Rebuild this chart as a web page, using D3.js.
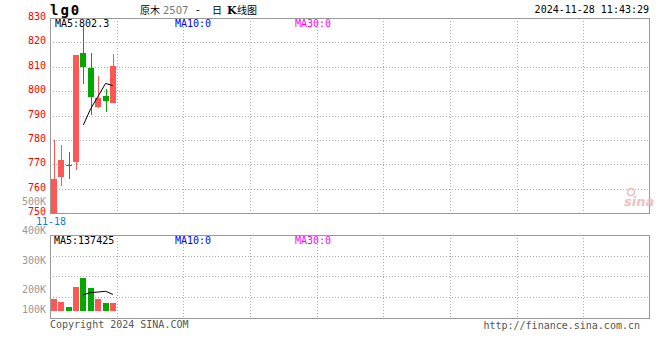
<!DOCTYPE html>
<html>
<head>
<meta charset="utf-8">
<script src="https://cdn.jsdelivr.net/npm/d3@7/dist/d3.min.js"></script>
<style>
  body { margin: 0; background: #fff; }
  text { font-family: "DejaVu Sans Mono", monospace; font-size: 10px; }
</style>
</head>
<body>
<div id="chart"></div>
<script>
// daily candles
var dates = ["11-18"];
var opens  = [750.0, 764.8, 769.8, 771.1, 815.7, 809.5, 793.7, 798.1, 795.1];
var closes = [764.1, 771.8, 769.6, 814.9, 810.1, 797.7, 797.3, 796.1, 810.4];
var highs  = [780.0, 778.0, 775.1, 814.9, 826.3, 815.7, 806.3, 800.9, 815.3];
var lows   = [750.0, 761.3, 764.2, 767.9, 802.8, 790.4, 793.0, 791.3, 795.1];
var ma5    = [null, null, null, null, 786.2, 792.9, 798.0, 803.2, 802.3];
var volumes = [97000, 75000, 31000, 197000, 271000, 191000, 97000, 64000, 64000];
var volMa5  = [null, null, null, null, 134200, 153000, 157400, 164000, 137425];
var priceTicks = [750, 760, 770, 780, 790, 800, 810, 820, 830];
var volTicks = [100000, 200000, 300000, 400000, 500000];

function main() {
    var width = 660, height = 360;
    var left = 50, right = 650,
        top1 = 18, bot1 = 213.3,
        top2 = 234.7, bot2 = 318;
    var slots = 81;
    var red = "#ff5656", green = "#00a800", grid = "#aaa";

    var svg = d3.select("#chart").append("svg").attr("width", width).attr("height", height);

    var x = d3.scaleBand().domain(d3.range(slots)).range([left, right]).paddingInner(0.2).paddingOuter(0.1);
    var cx = function(i) { return x(i) + x.bandwidth() / 2; };
    var y = d3.scaleLinear().domain([750, 830]).range([bot1, top1]);
    var yv = d3.scaleLinear().domain([0, 400000]).range([311, 311 - 400000 / 8300]);
    // sina puts its volume labels on its own spacing
    var yvLabel = d3.scaleLinear().domain([200000, 500000]).range([290, 202]);

    var gridG = svg.append("g").attr("stroke", grid).attr("stroke-dasharray", "1,2").attr("shape-rendering", "crispEdges");
    // vertical grid every 9 days
    for (var k = 9; k < slots; k += 9) {
        var gx = Math.round(x(k) - x.step() * x.paddingInner() / 2) + 0.5;
        gridG.append("line").attr("x1", gx).attr("x2", gx).attr("y1", top1).attr("y2", bot1);
        gridG.append("line").attr("x1", gx).attr("x2", gx).attr("y1", top2).attr("y2", bot2);
    }
    priceTicks.slice(1, -1).forEach(function(t) {
        var gy = Math.round(y(t)) + 0.5;
        gridG.append("line").attr("x1", left).attr("x2", right).attr("y1", gy).attr("y2", gy);
    });
    d3.range(1, 4).forEach(function(j) {
        var gy = Math.round(top2 + (bot2 - top2) * j / 4) + 0.5;
        gridG.append("line").attr("x1", left).attr("x2", right).attr("y1", gy).attr("y2", gy);
    });

    // frames
    [[top1, bot1], [top2, bot2]].forEach(function(p) {
        svg.append("rect").attr("x", left + 0.5).attr("y", Math.round(p[0]) + 0.5)
          .attr("width", right - left - 1).attr("height", Math.round(p[1]) - Math.round(p[0]))
          .attr("fill", "none").attr("stroke", "#999").attr("shape-rendering", "crispEdges");
    });

    // price labels
    svg.append("g").selectAll("text").data(priceTicks).enter().append("text")
      .attr("x", 46).attr("y", function(d) { return y(d) - 1; })
      .attr("text-anchor", "end").attr("dominant-baseline", "middle")
      .attr("fill", "#f00").text(function(d) { return d; });

    // volume labels
    svg.append("g").selectAll("text").data(volTicks).enter().append("text")
      .attr("x", 46).attr("y", function(d) { return Math.min(yvLabel(d), 310); })
      .attr("text-anchor", "end").attr("dominant-baseline", "middle")
      .attr("fill", "#999").text(function(d) { return (d / 1000) + "K"; });

    // candles
    var candles = svg.append("g").attr("shape-rendering", "crispEdges");
    opens.forEach(function(o, i) {
        var c = closes[i], col = c >= o ? red : green;
        var xc = Math.round(cx(i)) + 0.5;
        candles.append("line").attr("x1", xc).attr("x2", xc)
          .attr("y1", y(highs[i])).attr("y2", y(lows[i])).attr("stroke", col);
        var bt = y(Math.max(o, c)), bb = y(Math.min(o, c));
        candles.append("rect").attr("x", Math.round(x(i))).attr("y", bt)
          .attr("width", Math.round(x.bandwidth())).attr("height", Math.max(1, bb - bt)).attr("fill", col);
        candles.append("rect").attr("x", Math.round(x(i))).attr("y", Math.round(yv(volumes[i])))
          .attr("width", Math.round(x.bandwidth())).attr("height", Math.round(yv(0)) - Math.round(yv(volumes[i])))
          .attr("fill", col);
    });

    var line = d3.line().defined(function(d) { return d[1] != null; })
      .x(function(d) { return cx(d[0]); });
    svg.append("path").datum(ma5.map(function(v, i) { return [i, v]; }))
      .attr("d", line.y(function(d) { return y(d[1]); }))
      .attr("fill", "none").attr("stroke", "#000");
    svg.append("path").datum(volMa5.map(function(v, i) { return [i, v]; }))
      .attr("d", line.y(function(d) { return yv(d[1]); }))
      .attr("fill", "none").attr("stroke", "#000");

    // legends
    var leg = [["MA5:802.3", "#000", 55, 24], ["MA10:0", "#0000ff", 175, 24], ["MA30:0", "#ff00ff", 295, 24],
               ["MA5:137425", "#000", 54, 241], ["MA10:0", "#0000ff", 175, 241], ["MA30:0", "#ff00ff", 295, 241]];
    leg.forEach(function(l) {
        svg.append("text").attr("x", l[2]).attr("y", l[3]).attr("dominant-baseline", "middle")
          .attr("fill", l[1]).text(l[0]);
    });

    svg.append("text").attr("x", 36).attr("y", 222).attr("dominant-baseline", "middle")
      .attr("fill", "#0a7ed8").text(dates[0]);

    // header
    svg.append("text").attr("x", 50).attr("y", 15).style("font-size", "14px").style("font-weight", "bold")
      .style("letter-spacing", "2px").text("lg0");
    var cjk = "'Noto Sans CJK SC', sans-serif";
    var hdr = svg.append("g").style("font-size", "12px");
    hdr.append("text").attr("x", 140).attr("y", 14).style("font-family", cjk).text("原木");
    hdr.append("text").attr("x", 163).attr("y", 14).attr("fill", "#777").style("font-size", "10px")
      .style("font-family", "'DejaVu Sans', sans-serif").text("2507");
    hdr.append("text").attr("x", 196).attr("y", 13).style("font-family", "'DejaVu Sans', sans-serif").text("-");
    hdr.append("text").attr("x", 212).attr("y", 14).style("font-family", cjk).text("日");
    hdr.append("text").attr("x", 227).attr("y", 14).style("font-family", "'DejaVu Serif', serif")
      .style("font-weight", "bold").style("font-size", "11px").text("K");
    hdr.append("text").attr("x", 237).attr("y", 14).style("font-family", cjk).text("线图");
    svg.append("text").attr("x", 649).attr("y", 13).attr("text-anchor", "end").text("2024-11-28 11:43:29");

    // footer
    svg.append("text").attr("x", 50).attr("y", 328).attr("fill", "#555").text("Copyright 2024 SINA.COM");
    svg.append("text").attr("x", 640).attr("y", 329).attr("text-anchor", "end").attr("fill", "#555").text("http://finance.sina.com.cn");

    // sina mark
    svg.append("circle").attr("cx", 631).attr("cy", 192).attr("r", 3.5).attr("fill", "none").attr("stroke", "#f2b8b8").attr("stroke-width", 1.5);
    svg.append("text").attr("x", 624).attr("y", 206).style("font-family", "'DejaVu Sans', sans-serif")
      .style("font-size", "13px").style("font-style", "italic").style("font-weight", "bold")
      .attr("fill", "#f0c0c0").text("sina");
}

main();
</script>
</body>
</html>
